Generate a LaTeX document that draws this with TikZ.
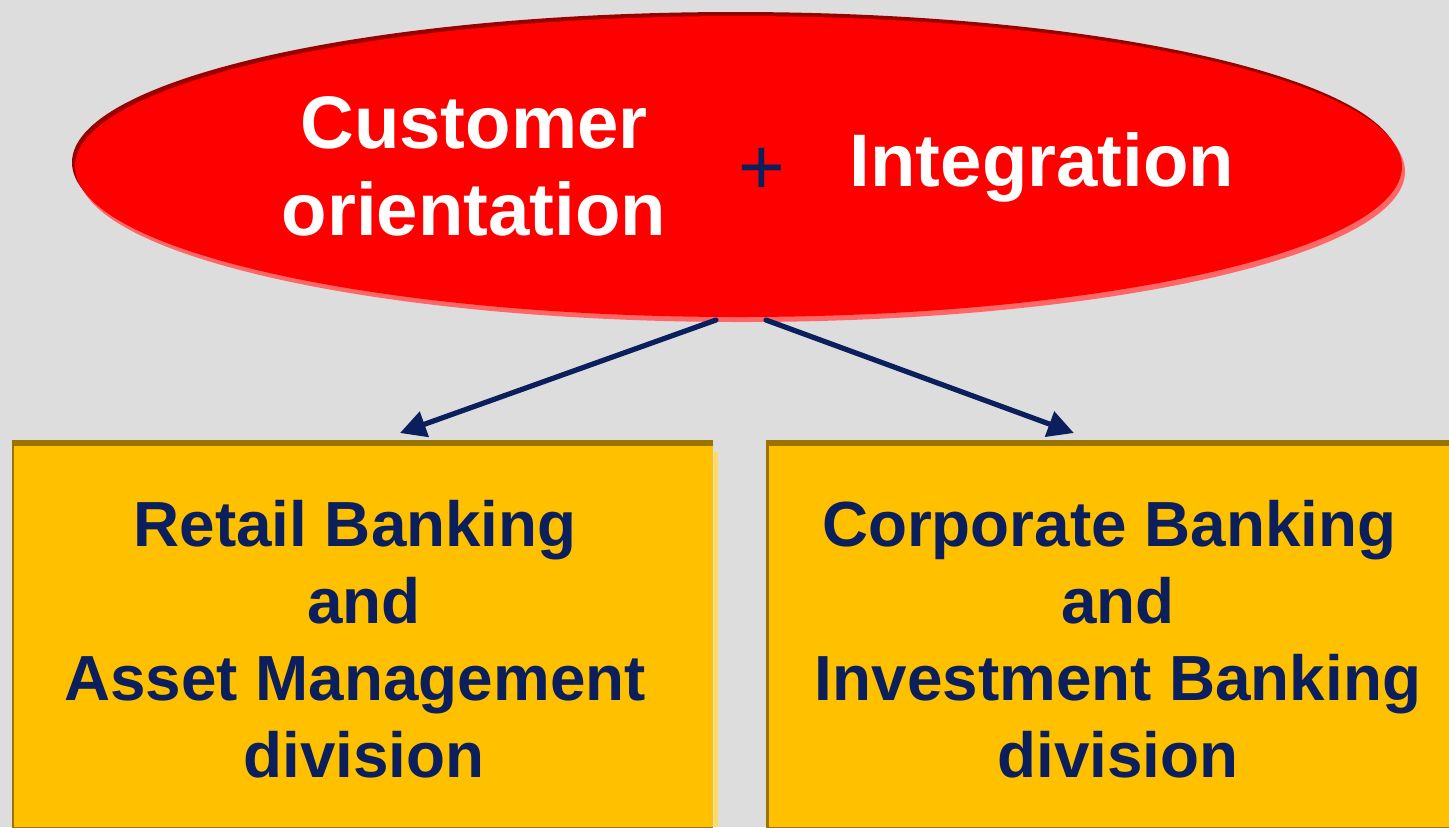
\documentclass[tikz,border=0pt]{standalone}
\usepackage{fontspec}
\setmainfont{Liberation Sans}
\usetikzlibrary{shapes.geometric,arrows.meta,calc}
\definecolor{bgc}{HTML}{DDDDDD}
\definecolor{navy}{HTML}{0A1F5C}
\definecolor{boxfill}{HTML}{FFC000}
\definecolor{boxedge}{HTML}{9A7400}
\definecolor{boxlight}{HTML}{FFD966}
\definecolor{darkred}{HTML}{990000}
\definecolor{pinkred}{HTML}{FF6666}
\newcommand{\trsp}{\kern0.278em}
\tikzset{
  x=0.5pt, y=-0.5pt,
  ellshape/.style={ellipse, minimum width=663.5pt, minimum height=150.5pt, inner sep=0pt, draw=none},
  elltext/.style={text=white, font=\fontsize{37.2}{43.5}\selectfont\bfseries, align=center, inner sep=0pt},
  boxtext/.style={text=navy, font=\fontsize{31.9}{38.5}\selectfont\bfseries, align=center, inner sep=0pt},
  conn/.style={navy, line width=2.6pt, line cap=round, -{Triangle[length=13pt,width=13pt]}},
}
\begin{document}
\begin{tikzpicture}
\fill[bgc] (0,0) rectangle (1449,827);
\useasboundingbox (0,0) rectangle (1449,827);
% ellipse with edge highlights
\node[ellshape, fill=pinkred] (ellb) at (741.5,171.5) {};
\node[ellshape, fill=darkred] (ellt) at (735.5,162.5) {};
\node[ellshape, fill=red] (ell) at (738.5,166.5) {};
\node[elltext] (cust) at (474,166) {Customer\\orientation};
\node[text=navy, font=\fontsize{40}{40}\selectfont, inner sep=0pt] (plus) at (762,171) {+};
\node[elltext] (integ) at (1042,167) {Integration};
% boxes
\fill[boxlight] (714,452) rectangle (718,827);
\node[fill=boxedge, minimum width=350.5pt, minimum height=195pt, inner sep=0pt, anchor=north west] (lbox) at (12,440) {};
\fill[boxfill] (14,446) rectangle (713,827);
\node[fill=boxedge, minimum width=341.5pt, minimum height=195pt, inner sep=0pt, anchor=north west] (rbox) at (766,440) {};
\fill[boxfill] (769,446) rectangle (1449,827);
\node[boxtext] (ltext) at (364,639) {Retail Banking\trsp\\and\\Asset Management\trsp\\division};
\node[boxtext] (rtext) at (1118,639) {Corporate Banking\trsp\\and\\Investment Banking\\division};
% connectors
\coordinate (s1) at (716,320);
\coordinate (s2) at (766,320);
\draw[conn] (s1) -- ($(lbox.north)+(37,-7)$);
\draw[conn] (s2) -- ($(rbox.north)+(-34,-7)$);
\end{tikzpicture}
\end{document}
